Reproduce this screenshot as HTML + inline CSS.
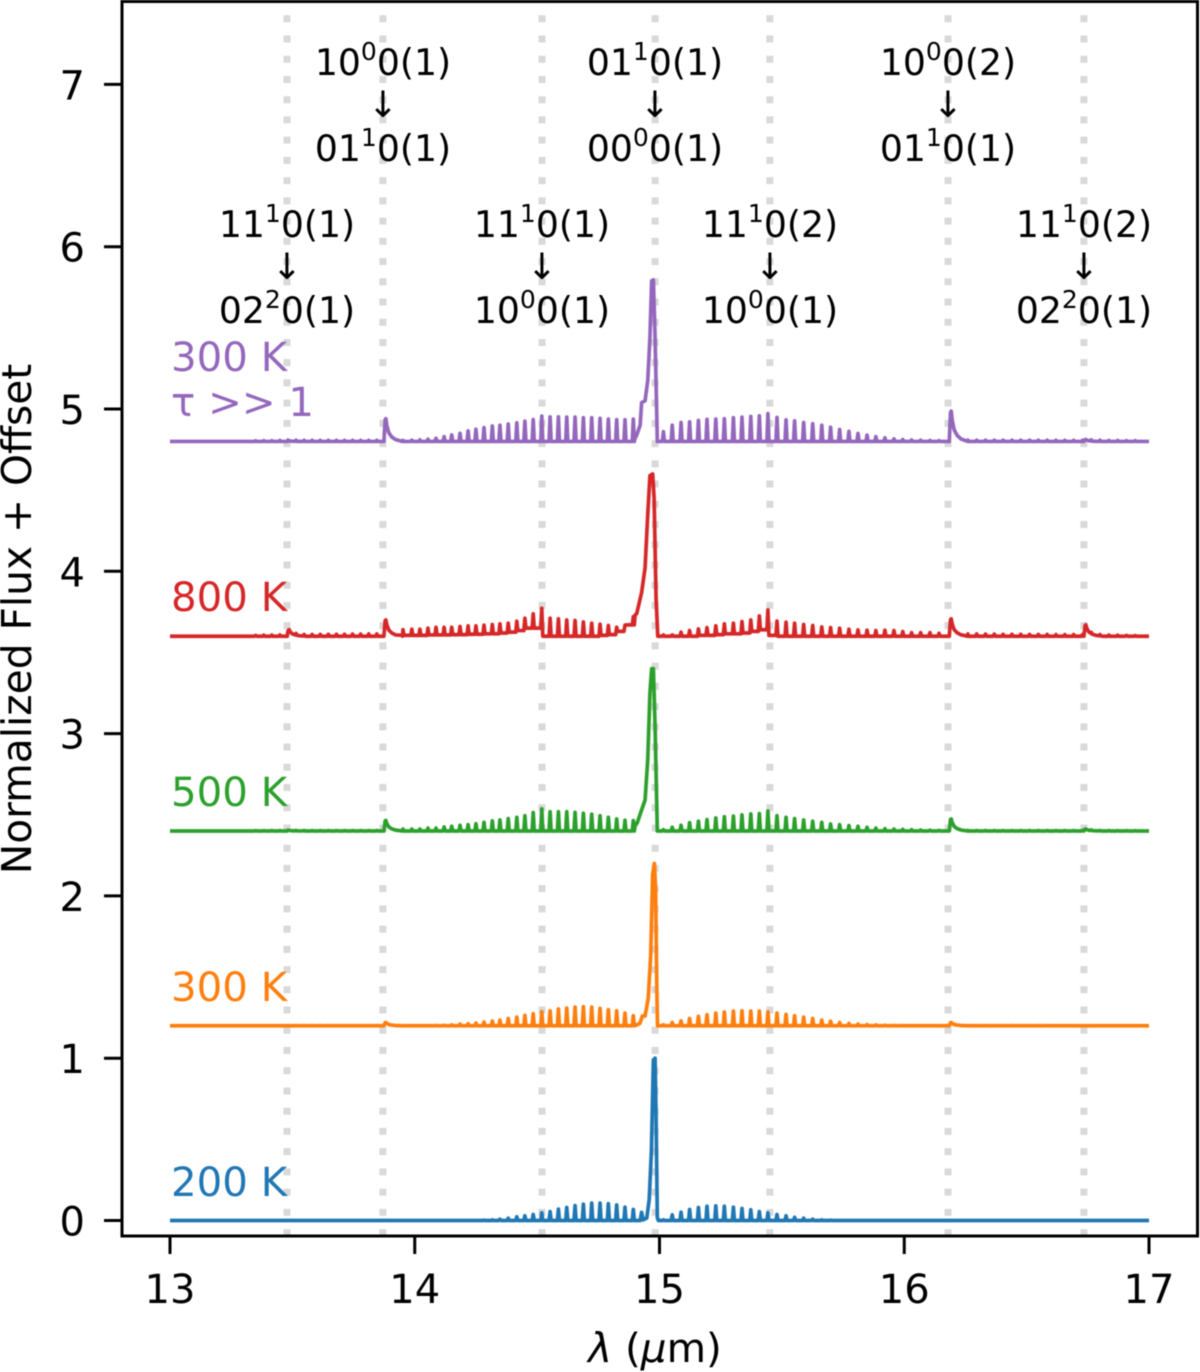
<!DOCTYPE html>
<html>
<head>
<meta charset="utf-8">
<title>Normalized flux spectra</title>
<style>
html,body{margin:0;padding:0;background:#fff;}
svg{display:block;font-family:"DejaVu Sans","Liberation Sans",sans-serif;filter:blur(0.45px);}
.ann{font-size:36.2px;fill:#000;text-anchor:middle;}
.tick{font-size:40px;fill:#000;}
.lab{font-size:40.3px;}
</style>
</head>
<body>
<svg id="chart" xmlns="http://www.w3.org/2000/svg" width="1200" height="1372" viewBox="0 0 1200 1372">
<defs><clipPath id="plot-clip"><rect x="122" y="2" width="1075" height="1234"/></clipPath></defs>
<g id="vlines" clip-path="url(#plot-clip)"></g>

<g id="annotations">
<text class="ann" x="383" y="75">10<tspan dy="-15" font-size="25">0</tspan><tspan dy="15">0(1)</tspan></text>
<text class="ann" x="383" y="117">↓</text>
<text class="ann" x="383" y="161">01<tspan dy="-15" font-size="25">1</tspan><tspan dy="15">0(1)</tspan></text>

<text class="ann" x="655" y="75">01<tspan dy="-15" font-size="25">1</tspan><tspan dy="15">0(1)</tspan></text>
<text class="ann" x="655" y="117">↓</text>
<text class="ann" x="655" y="161">00<tspan dy="-15" font-size="25">0</tspan><tspan dy="15">0(1)</tspan></text>

<text class="ann" x="948" y="75">10<tspan dy="-15" font-size="25">0</tspan><tspan dy="15">0(2)</tspan></text>
<text class="ann" x="948" y="117">↓</text>
<text class="ann" x="948" y="161">01<tspan dy="-15" font-size="25">1</tspan><tspan dy="15">0(1)</tspan></text>

<text class="ann" x="287" y="237">11<tspan dy="-15" font-size="25">1</tspan><tspan dy="15">0(1)</tspan></text>
<text class="ann" x="287" y="279">↓</text>
<text class="ann" x="287" y="323">02<tspan dy="-15" font-size="25">2</tspan><tspan dy="15">0(1)</tspan></text>

<text class="ann" x="542" y="237">11<tspan dy="-15" font-size="25">1</tspan><tspan dy="15">0(1)</tspan></text>
<text class="ann" x="542" y="279">↓</text>
<text class="ann" x="542" y="323">10<tspan dy="-15" font-size="25">0</tspan><tspan dy="15">0(1)</tspan></text>

<text class="ann" x="770" y="237">11<tspan dy="-15" font-size="25">1</tspan><tspan dy="15">0(2)</tspan></text>
<text class="ann" x="770" y="279">↓</text>
<text class="ann" x="770" y="323">10<tspan dy="-15" font-size="25">0</tspan><tspan dy="15">0(1)</tspan></text>

<text class="ann" x="1084" y="237">11<tspan dy="-15" font-size="25">1</tspan><tspan dy="15">0(2)</tspan></text>
<text class="ann" x="1084" y="279">↓</text>
<text class="ann" x="1084" y="323">02<tspan dy="-15" font-size="25">2</tspan><tspan dy="15">0(1)</tspan></text>
</g>

<g id="series" clip-path="url(#plot-clip)"></g>

<g id="series-labels">
<text class="lab" x="171" y="1196" fill="#1f77b4">200 K</text>
<text class="lab" x="171" y="1001" fill="#ff7f0e">300 K</text>
<text class="lab" x="171" y="806" fill="#2ca02c">500 K</text>
<text class="lab" x="171" y="611" fill="#d62728">800 K</text>
<text class="lab" x="171" y="371" fill="#9467bd">300 K</text>
<text class="lab" x="171" y="416" fill="#9467bd">τ &gt;&gt; 1</text>
</g>

<rect x="122" y="1.5" width="1075.5" height="1234.5" fill="none" stroke="#000" stroke-width="3"/>
<g id="axes"></g>

<text x="655" y="1362" font-size="40.5" text-anchor="middle" fill="#000"><tspan font-style="italic">λ</tspan> (<tspan font-style="italic">µ</tspan>m)</text>
<text transform="translate(31,619) rotate(-90)" font-size="40.7" text-anchor="middle" fill="#000">Normalized Flux + Offset</text>
</svg>

<script>
/* Axis tick labels */
const xTicks = [13, 14, 15, 16, 17];
const yTicks = [0, 1, 2, 3, 4, 5, 6, 7];
/* Dotted reference transitions (um) */
const transitionLines = [13.478, 13.870, 14.520, 14.982, 15.451, 16.179, 16.734];

/* Rovibrational line wavelengths (um) */
const wlFarL = [13.35,13.383,13.416,13.449,13.482,13.515,13.548,13.581,13.614,13.647,13.68,13.713,13.746,13.779,13.812,13.845];
const wlLeft = [13.952,13.988,14.021,14.054,14.087,14.120,14.151,14.185,14.218,14.250,14.283,14.317,14.348,14.382,14.417,14.450,14.484,14.519,14.553,14.587,14.621,14.655,14.689,14.723,14.757,14.791,14.825,14.859,14.893];
const wlRight = [15.016,15.052,15.088,15.123,15.159,15.194,15.230,15.265,15.302,15.337,15.373,15.408,15.443,15.480,15.517,15.552,15.589,15.626,15.663,15.699,15.736,15.774,15.811,15.848,15.884,15.921,15.958,15.994,16.030,16.067,16.105,16.142];
const wlFarR = [16.26,16.296,16.332,16.368,16.404,16.44,16.476,16.512,16.548,16.584,16.62,16.656,16.692,16.728,16.764,16.8,16.836,16.872,16.908,16.944];
/* Isolated hot-band features (um) */
const hotWl = [13.485, 13.88, 16.19, 16.74];

/* 200 K */
const blueFarL = [0,0,0,0,0,0,0,0,0,0,0,0,0,0,0,0];
const blueLeft = [0,0,0,0,0,0,0,0,0,0,.002,.004,.008,.014,.023,.029,.037,.047,.055,.07,.08,.092,.10,.107,.107,.103,.096,.082,.068];
const blueQx = [14.921,14.927,14.933,14.948,14.958,14.967,14.975,14.982,14.986,14.991,14.995];
const blueQy = [0,.05,.004,.015,.13,.43,.99,1.0,.64,.02,0];
const blueRight = [.004,.035,.051,.068,.08,.088,.09,.088,.082,.074,.066,.055,.047,.037,.029,.02,.014,.008,.004,.002,0,0,0,0,0,0,0,0,0,0,0,0];
const blueFarR = [0,0,0,0,0,0,0,0,0,0,0,0,0,0,0,0,0,0,0,0];
const blueHot = [0,0,0,0];

/* 300 K */
const orangeFarL = [0,0,0,0,.001,.001,.001,.001,.001,.001,.001,.001,.001,.001,.001,.001];
const orangeLeft = [0,0,0,0,.002,.003,.005,.01,.012,.016,.023,.029,.035,.045,.053,.064,.074,.086,.092,.103,.109,.115,.117,.115,.107,.099,.092,.078,.062];
const orangeQx = [14.90,14.920,14.930,14.941,14.954,14.964,14.972,14.979,14.984,14.989,14.992];
const orangeQy = [0,.015,.06,.06,.17,.43,.93,1.0,.85,.23,0];
const orangeRight = [.006,.02,.03,.045,.058,.068,.078,.085,.09,.092,.09,.09,.085,.078,.07,.062,.053,.045,.035,.028,.02,.014,.01,.007,.005,.003,.002,.001,0,0,0,0];
const orangeFarR = [.001,.001,.001,.001,.001,.001,.001,.001,.001,.001,0,0,0,0,0,0,0,0,0,0];
const orangeHot = [0,.02,.02,0];

/* 500 K */
const greenFarL = [.002,.002,.003,.003,.003,.003,.003,.003,.003,.003,.003,.003,.003,.003,.003,.003];
const greenLeft = [.012,.012,.012,.018,.018,.025,.029,.035,.039,.045,.053,.062,.068,.076,.084,.094,.113,.136,.119,.119,.119,.115,.109,.103,.094,.084,.074,.066,.064];
const greenQx = [14.90,14.909,14.927,14.941,14.952,14.961,14.968,14.975,14.982,14.991];
const greenQy = [.03,.05,.13,.19,.44,.85,1.0,1.0,.64,0];
const greenRight = [.008,.023,.035,.051,.06,.07,.08,.088,.092,.099,.105,.107,.123,.094,.084,.076,.068,.06,.053,.043,.039,.033,.029,.023,.018,.014,.012,.01,.008,.006,.005,.004];
const greenFarR = [.003,.003,.003,.003,.003,.003,.003,.003,.003,.003,.003,.003,.003,.004,.004,.003,.003,.002,.002,.002];
const greenHot = [.004,.065,.074,.012];

/* 800 K */
const redFarL = [.005,.006,.007,.008,.009,.01,.01,.011,.011,.012,.012,.012,.013,.013,.014,.014];
const redLeft = [.04,.043,.043,.05,.055,.055,.055,.06,.064,.064,.068,.072,.076,.08,.092,.111,.138,.172,.111,.107,.1,.097,.088,.08,.074,.066,.055,.068,.12];
const redLeftTrough = [.005,.005,.005,.005,.008,.008,.008,.01,.01,.012,.012,.015,.015,.02,.025,.035,.05,.05,0,0,0,0,0,0,0,.005,.01,.03,.07];
const redQx = [14.90,14.907,14.927,14.941,14.952,14.961,14.972,14.978,14.986,14.993];
const redQy = [.13,.14,.27,.42,.75,.99,1.0,.85,.23,0];
const redRight = [.008,.008,.025,.035,.045,.053,.064,.076,.08,.09,.1,.125,.162,.093,.086,.08,.072,.066,.057,.053,.049,.043,.039,.037,.035,.037,.035,.029,.022,.022,.022,.018];
const redRightTrough = [0,0,0,0,0,.005,.005,.01,.015,.015,.02,.03,.04,.005,0,0,0,0,0,0,0,0,0,0,0,0,0,0,0,0,0,0];
const redFarR = [.014,.014,.013,.013,.012,.012,.012,.011,.011,.011,.01,.01,.01,.01,.008,.008,.007,.006,.005,.004];
const redHot = [.04,.10,.107,.07];

/* 300 K, tau >> 1 */
const purpleFarL = [.004,.005,.005,.006,.006,.007,.007,.007,.007,.007,.007,.007,.007,.007,.007,.007];
const purpleLeft = [.006,.008,.01,.014,.02,.03,.04,.05,.065,.075,.085,.095,.1,.107,.115,.125,.135,.156,.152,.152,.15,.15,.146,.146,.142,.138,.134,.134,.138];
const purpleQx = [14.90,14.907,14.921,14.927,14.941,14.952,14.961,14.968,14.975,14.982,14.991];
const purpleQy = [.02,.04,.10,.24,.25,.376,.643,.99,.995,.643,0];
const purpleRight = [.06,.10,.117,.121,.129,.136,.138,.14,.146,.15,.154,.158,.172,.148,.133,.127,.117,.109,.1,.088,.074,.062,.049,.039,.03,.023,.016,.012,.009,.008,.006,.005];
const purpleFarR = [.008,.008,.008,.008,.008,.008,.008,.008,.008,.008,.007,.007,.007,.007,.007,.007,.006,.006,.005,.005];
const purpleHot = [.004,.14,.187,.012];

/* Vertical offsets applied to each spectrum */
const offsetBlue = 0, offsetOrange = 1.2, offsetGreen = 2.4, offsetRed = 3.6, offsetPurple = 4.8;

const NS = 'http://www.w3.org/2000/svg';
function xScale(l){ return 170 + 244.75 * (l - 13); }
function yScale(v){ return 1220.5 - 162.3 * v; }
function mk(tag, attrs){
  const el = document.createElementNS(NS, tag);
  for (const k in attrs) el.setAttribute(k, attrs[k]);
  return el;
}

/* reference lines */
const vg = document.getElementById('vlines');
transitionLines.forEach(function(l){
  const line = mk('line', {x1:xScale(l), x2:xScale(l), y1:-4.96, y2:1240, stroke:'#d9d9d9', 'stroke-width':7, 'stroke-dasharray':'7 13.23'});
  
  
  vg.appendChild(line);
});

/* axes */
const ag = document.getElementById('axes');
xTicks.forEach(function(t){
  const px = xScale(t);
  const tk = mk('line', {x1:px, x2:px, y1:1236, y2:1254, stroke:'#000', 'stroke-width':3});
  
  
  ag.appendChild(tk);
  const tx = mk('text', {x:px, y:1303, 'text-anchor':'middle', 'class':'tick'});
  tx.textContent = t;
  
  
  ag.appendChild(tx);
});
yTicks.forEach(function(t){
  const py = yScale(t);
  const tk = mk('line', {x1:104, x2:122, y1:py, y2:py, stroke:'#000', 'stroke-width':3});
  
  
  ag.appendChild(tk);
  const tx = mk('text', {x:85, y:py + 15, 'text-anchor':'end', 'class':'tick'});
  tx.textContent = t;
  
  
  ag.appendChild(tx);
});

/* Rendering profile of a hot-band feature */
const HOT_DX = [-.006,-.001,.002,.006,.014,.026,.042,.07];
const HOT_SHAPE = [0,.95,1,.7,.38,.2,.08,0];
function hotAt(l, hots){
  let sum = 0;
  hots.forEach(function(h, i){
    if (!h) return;
    const d = l - hotWl[i];
    for (let k = 0; k < HOT_DX.length - 1; k++){
      if (d >= HOT_DX[k] && d <= HOT_DX[k + 1]){
        const f = (d - HOT_DX[k]) / (HOT_DX[k + 1] - HOT_DX[k]);
        sum += h * (HOT_SHAPE[k] + f * (HOT_SHAPE[k + 1] - HOT_SHAPE[k]));
        break;
      }
    }
  });
  return sum;
}
function addComb(pts, wl, peaks, troughs){
  const W = 0.0042;
  wl.forEach(function(l, i){
    const tb = troughs ? (troughs[i] || 0) : 0;
    const ta = troughs ? (i + 1 < troughs.length ? troughs[i + 1] : tb) : 0;
    pts.push([l - W, tb]);
    pts.push([l, peaks[i] || 0]);
    pts.push([l + W, ta]);
  });
}
function drawSeries(name, color, offset, farL, left, leftTr, qx, qy, right, rightTr, farR, hots){
  const pts = [[13, 0], [17, 0]];
  addComb(pts, wlFarL, farL);
  addComb(pts, wlLeft, left, leftTr);
  qx.forEach(function(l, i){ pts.push([l, qy[i]]); });
  addComb(pts, wlRight, right, rightTr);
  addComb(pts, wlFarR, farR);
  hots.forEach(function(h, i){
    if (h) HOT_DX.forEach(function(dx){ pts.push([hotWl[i] + dx, 0]); });
  });
  pts.sort(function(a, b){ return a[0] - b[0]; });
  const d = pts.map(function(p){
    return xScale(p[0]).toFixed(2) + ',' + yScale(offset + p[1] + hotAt(p[0], hots)).toFixed(2);
  }).join(' ');
  const line = mk('polyline', {points:d, fill:'none', stroke:color, 'stroke-width':3.7, 'stroke-linejoin':'round', 'stroke-linecap':'butt'});
  
  
  document.getElementById('series').appendChild(line);
}
drawSeries('series-200k', '#1f77b4', offsetBlue, blueFarL, blueLeft, null, blueQx, blueQy, blueRight, null, blueFarR, blueHot);
drawSeries('series-300k', '#ff7f0e', offsetOrange, orangeFarL, orangeLeft, null, orangeQx, orangeQy, orangeRight, null, orangeFarR, orangeHot);
drawSeries('series-500k', '#2ca02c', offsetGreen, greenFarL, greenLeft, null, greenQx, greenQy, greenRight, null, greenFarR, greenHot);
drawSeries('series-800k', '#d62728', offsetRed, redFarL, redLeft, redLeftTrough, redQx, redQy, redRight, redRightTrough, redFarR, redHot);
drawSeries('series-300k-optically-thick', '#9467bd', offsetPurple, purpleFarL, purpleLeft, null, purpleQx, purpleQy, purpleRight, null, purpleFarR, purpleHot);
</script>
</body>
</html>
